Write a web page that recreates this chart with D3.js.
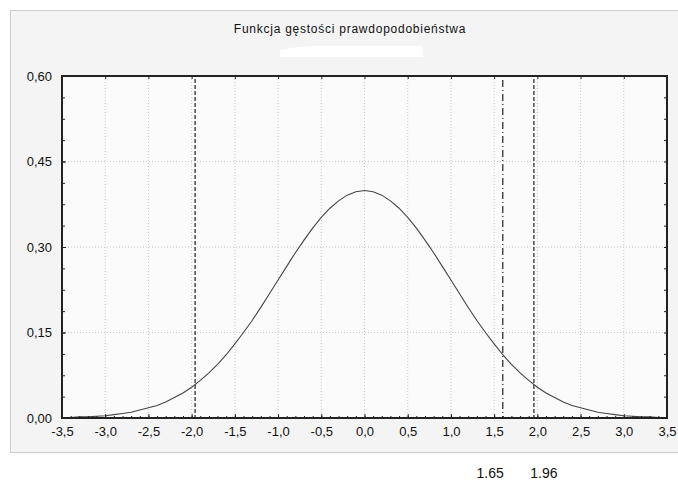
<!DOCTYPE html>
<html>
<head>
<meta charset="utf-8">
<script src="https://cdn.jsdelivr.net/npm/d3@7"></script>
<style>
  body { margin: 0; background: #fff; }
  svg { display: block; }
  .tick text { font-family: "Liberation Sans", Arial, sans-serif; font-size: 13px; fill: #111; }
</style>
</head>
<body>
<div id="chart"></div>
<script>
// density curve
const curveX = [-3.4, -3.3, -3.2, -3.1, -3.0, -2.9, -2.8, -2.7, -2.6, -2.5, -2.4, -2.3, -2.2, -2.1, -2.0,
  -1.9, -1.8, -1.7, -1.6, -1.5, -1.4, -1.3, -1.2, -1.1, -1.0, -0.9, -0.8, -0.7, -0.6, -0.5, -0.4, -0.3, -0.2, -0.1,
  0.0, 0.1, 0.2, 0.3, 0.4, 0.5, 0.6, 0.7, 0.8, 0.9, 1.0, 1.1, 1.2, 1.3, 1.4, 1.5, 1.6, 1.7, 1.8, 1.9,
  2.0, 2.1, 2.2, 2.3, 2.4, 2.5, 2.6, 2.7, 2.8, 2.9, 3.0, 3.1, 3.2, 3.3, 3.4];
const curveY = [0.001, 0.002, 0.002, 0.003, 0.004, 0.006, 0.008, 0.010, 0.014, 0.018, 0.022, 0.028, 0.036, 0.044, 0.054,
  0.066, 0.079, 0.094, 0.111, 0.130, 0.150, 0.171, 0.194, 0.218, 0.242, 0.266, 0.290, 0.312, 0.333, 0.352, 0.368, 0.381, 0.391, 0.397,
  0.399, 0.397, 0.391, 0.381, 0.368, 0.352, 0.333, 0.312, 0.290, 0.266, 0.242, 0.218, 0.194, 0.171, 0.150, 0.130, 0.111, 0.094, 0.079, 0.066,
  0.054, 0.044, 0.036, 0.028, 0.022, 0.018, 0.014, 0.010, 0.008, 0.006, 0.004, 0.003, 0.002, 0.002, 0.001];

// vertical marker lines
const dashedLines = [-1.96, 1.96];
const dashDotLines = [1.6];

// notes under the chart
const noteValues = [1.65, 1.96];
const noteLabels = ["1.65", "1.96"];

const xTicks = [-3.5, -3.0, -2.5, -2.0, -1.5, -1.0, -0.5, 0.0, 0.5, 1.0, 1.5, 2.0, 2.5, 3.0, 3.5];
const yTicks = [0.00, 0.15, 0.30, 0.45, 0.60];

const W = 678, H = 482;
const mLeft = 62, mTop = 76, pw = 605, ph = 342;

const svg = d3.select("#chart").append("svg")
  .attr("width", W)
  .attr("height", H);

// grey panel with dotted frame
svg.append("rect")
  .attr("x", 10.5).attr("y", 10.5)
  .attr("width", 690).attr("height", 442)
  .attr("fill", "#f4f4f4")
  .attr("stroke", "#a0a0a0")
  .attr("stroke-dasharray", "1,1");

svg.append("text")
  .attr("x", 350).attr("y", 33)
  .attr("text-anchor", "middle")
  .style("font-family", "'Liberation Sans', Arial, sans-serif")
  .style("font-size", "12px")
  .style("letter-spacing", "0.75px")
  .attr("fill", "#111")
  .text("Funkcja gęstości prawdopodobieństwa");

// erased patch under the title
svg.append("path")
  .attr("d", "M280,57 L280,50 Q305,45 335,46 L423,46 L423,57 Z")
  .attr("fill", "#ffffff");

const x = d3.scaleLinear().domain([-3.5, 3.5]).range([0, pw]);
const y = d3.scaleLinear().domain([0, 0.6]).range([ph, 0]);

const g = svg.append("g").attr("transform", `translate(${mLeft},${mTop})`);

g.append("rect")
  .attr("width", pw).attr("height", ph)
  .attr("fill", "#fbfbfb");

// grid
g.selectAll(".vgrid")
  .data(xTicks.slice(1, -1))
  .enter().append("line")
  .attr("class", "vgrid")
  .attr("x1", d => x(d)).attr("x2", d => x(d))
  .attr("y1", 0).attr("y2", ph)
  .attr("stroke", "#c8c8c8")
  .attr("stroke-dasharray", "1,2");

g.selectAll(".hgrid")
  .data(yTicks.slice(1, -1))
  .enter().append("line")
  .attr("class", "hgrid")
  .attr("x1", 0).attr("x2", pw)
  .attr("y1", d => y(d)).attr("y2", d => y(d))
  .attr("stroke", "#c8c8c8")
  .attr("stroke-dasharray", "1,2");

// marker lines
g.selectAll(".dashed")
  .data(dashedLines)
  .enter().append("line")
  .attr("x1", d => x(d)).attr("x2", d => x(d))
  .attr("y1", 3).attr("y2", ph)
  .attr("stroke", "#222")
  .attr("stroke-width", 1.2)
  .attr("stroke-dasharray", "4,2");

g.selectAll(".dashdot")
  .data(dashDotLines)
  .enter().append("line")
  .attr("x1", d => x(d)).attr("x2", d => x(d))
  .attr("y1", 4).attr("y2", ph)
  .attr("stroke", "#222")
  .attr("stroke-width", 1.2)
  .attr("stroke-dasharray", "7,3,1,3");

// curve
const pts = curveX.map((v, i) => [v, curveY[i]]);
g.append("path")
  .datum(pts)
  .attr("fill", "none")
  .attr("stroke", "#444")
  .attr("stroke-width", 1.1)
  .attr("d", d3.line().x(d => x(d[0])).y(d => y(d[1])));

// axes
const minorX = d3.range(-35, 36).map(v => v / 10);
const minorY = d3.range(0, 17).map(v => v * 0.0375);
const fmtX = d => d3.format(".1f")(d).replace(".", ",").replace("−", "-");
const fmtY = d => d3.format(".2f")(d).replace(".", ",");

function styleAxis(sel) {
  sel.select(".domain").remove();
  sel.selectAll("line").attr("stroke", "#222");
}

g.append("g").attr("transform", `translate(0,${ph})`)
  .call(d3.axisBottom(x).tickValues(minorX).tickSize(-2).tickFormat(""))
  .call(styleAxis);
g.append("g").attr("transform", `translate(0,${ph})`)
  .call(d3.axisBottom(x).tickValues(xTicks).tickSize(-4).tickPadding(9).tickFormat(fmtX))
  .call(styleAxis);
g.append("g")
  .call(d3.axisTop(x).tickValues(xTicks).tickSize(-3).tickFormat(""))
  .call(styleAxis);

g.append("g")
  .call(d3.axisLeft(y).tickValues(minorY).tickSize(-3).tickFormat(""))
  .call(styleAxis);
g.append("g")
  .call(d3.axisLeft(y).tickValues(yTicks).tickSize(-4).tickPadding(10).tickFormat(fmtY))
  .call(styleAxis);
g.append("g").attr("transform", `translate(${pw},0)`)
  .call(d3.axisRight(y).tickValues(minorY).tickSize(-3).tickFormat(""))
  .call(styleAxis);

g.append("rect")
  .attr("width", pw).attr("height", ph)
  .attr("fill", "none")
  .attr("stroke", "#222")
  .attr("stroke-width", 2);

// notes below
svg.selectAll(".note")
  .data(noteValues)
  .enter().append("text")
  .attr("x", (d, i) => mLeft + x(d) + (i === 0 ? -17 : 10))
  .attr("y", 478)
  .attr("text-anchor", "middle")
  .style("font-family", "'Liberation Sans', Arial, sans-serif")
  .style("font-size", "14px")
  .attr("fill", "#111")
  .text((d, i) => noteLabels[i]);
</script>
</body>
</html>
